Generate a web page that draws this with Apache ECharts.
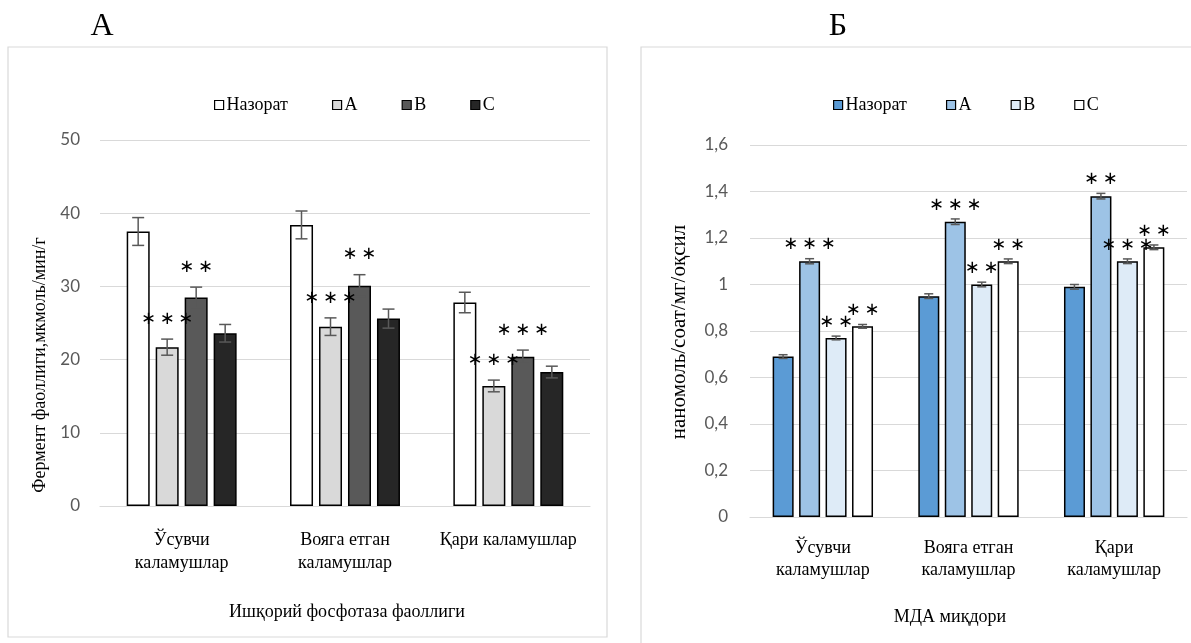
<!DOCTYPE html>
<html>
<head>
<meta charset="utf-8">
<script src="https://cdn.jsdelivr.net/npm/echarts@6/dist/echarts.min.js"></script>
<style>
html, body { margin: 0; padding: 0; background: #fff; }
#chart { width: 1191px; height: 643px; }
</style>
</head>
<body>
<div id="chart"></div>
<script>
// категориялар
var groupsA = ['Ўсувчи\nкаламушлар', 'Вояга етган\nкаламушлар', 'Қари каламушлар'];
var groupsB = ['Ўсувчи\nкаламушлар', 'Вояга етган\nкаламушлар', 'Қари\nкаламушлар'];
var seriesNames = ['Назорат', 'A', 'B', 'C'];

// А: ишқорий фосфотаза фаоллиги
var phosControl = [37.5, 38.4, 27.8];
var phosA = [21.7, 24.5, 16.4];
var phosB = [28.5, 30.1, 20.4];
var phosC = [23.6, 25.6, 18.3];
var phosErrControl = [1.9, 1.9, 1.4];
var phosErrA = [1.1, 1.2, 0.8];
var phosErrB = [1.4, 1.5, 0.9];
var phosErrC = [1.2, 1.3, 0.8];
var phosStarsControl = ['', '', ''];
var phosStarsA = ['***', '***', '***'];
var phosStarsB = ['**', '**', '***'];
var phosStarsC = ['', '', ''];

// Б: МДА миқдори
var mdaControl = [0.69, 0.95, 0.99];
var mdaA = [1.10, 1.27, 1.38];
var mdaB = [0.77, 1.00, 1.10];
var mdaC = [0.82, 1.10, 1.16];
var mdaErrControl = [0.008, 0.01, 0.01];
var mdaErrA = [0.011, 0.012, 0.012];
var mdaErrB = [0.008, 0.01, 0.01];
var mdaErrC = [0.008, 0.01, 0.01];
var mdaStarsControl = ['', '', ''];
var mdaStarsA = ['***', '***', '**'];
var mdaStarsB = ['**', '**', '***'];
var mdaStarsC = ['**', '**', '**'];

var colorsA = ['#ffffff', '#d9d9d9', '#595959', '#262626'];
var colorsB = ['#5b9bd5', '#9dc3e6', '#deebf7', '#ffffff'];

var serif = 'Liberation Serif';
var sans = 'Lato';

var myChart = echarts.init(document.getElementById('chart'));

function errorBars(si, step, cap, starGap, stars) {
    return function (params, api) {
        var ci = api.value(0);
        var v = api.value(1), e = api.value(2);
        var x = api.coord([ci, 0])[0] + (si - 1.5) * step;
        var top = api.coord([ci, v + e])[1];
        var bot = api.coord([ci, v - e])[1];
        var st = { stroke: '#595959', lineWidth: 1.5 };
        var children = [
            { type: 'line', shape: { x1: x, y1: top, x2: x, y2: bot }, style: st },
            { type: 'line', shape: { x1: x - cap, y1: top, x2: x + cap, y2: top }, style: st },
            { type: 'line', shape: { x1: x - cap, y1: bot, x2: x + cap, y2: bot }, style: st }
        ];
        var s = stars[params.dataIndex];
        if (s) {
            children.push({
                type: 'text',
                style: {
                    text: s.split('').map(function () { return '∗'; }).join('\u2009'),
                    x: x, y: top - starGap,
                    align: 'center', verticalAlign: 'middle',
                    fill: '#000', font: '18px "DejaVu Sans"'
                }
            });
        }
        return { type: 'group', children: children };
    };
}

function buildSeries(gi, suffix, values, errs, stars, colors, barWidth, step, cap, starGap) {
    var out = [];
    values.forEach(function (vals, si) {
        out.push({
            name: seriesNames[si] + suffix,
            type: 'bar',
            xAxisIndex: gi, yAxisIndex: gi,
            barWidth: barWidth,
            barGap: '26%',
            itemStyle: { color: colors[si], borderColor: '#000', borderWidth: 1.5 },
            data: vals,
            z: 2
        });
    });
    values.forEach(function (vals, si) {
        out.push({
            type: 'custom',
            xAxisIndex: gi, yAxisIndex: gi,
            renderItem: errorBars(si, step, cap, starGap, stars[si]),
            data: vals.map(function (v, i) { return [i, v, errs[si][i]]; }),
            z: 5
        });
    });
    return out;
}

var series = [].concat(
    buildSeries(0, '', [phosControl, phosA, phosB, phosC],
        [phosErrControl, phosErrA, phosErrB, phosErrC],
        [phosStarsControl, phosStarsA, phosStarsB, phosStarsC],
        colorsA, 23, 29, 6, 20),
    buildSeries(1, ' ', [mdaControl, mdaA, mdaB, mdaC],
        [mdaErrControl, mdaErrA, mdaErrB, mdaErrC],
        [mdaStarsControl, mdaStarsA, mdaStarsB, mdaStarsC],
        colorsB, 21, 26.5, 4.5, 14)
);

var axisCommon = {
    axisLine: { show: false },
    axisTick: { show: false },
    splitLine: { lineStyle: { color: '#d9d9d9', width: 1.2 } }
};

var option = {
    animation: false,
    textStyle: { fontFamily: serif },
    grid: [
        { left: 100, right: 601, top: 140, bottom: 137 },
        { left: 750, right: 4, top: 145, bottom: 126 }
    ],
    legend: [
        {
            data: seriesNames.slice(),
            left: 209, top: 91,
            itemWidth: 9, itemHeight: 9, itemGap: 44,
            icon: 'rect',
            itemStyle: { borderColor: '#000', borderWidth: 1.2 },
            textStyle: { fontFamily: serif, fontSize: 18, color: '#000', padding: [0, 0, 0, -2] }
        },
        {
            data: seriesNames.map(function (n) { return n + ' '; }),
            left: 828, top: 91,
            itemWidth: 9, itemHeight: 9, itemGap: 39,
            icon: 'rect',
            itemStyle: { borderColor: '#000', borderWidth: 1.2 },
            formatter: function (n) { return n.trim(); },
            textStyle: { fontFamily: serif, fontSize: 18, color: '#000', padding: [0, 0, 0, -2] }
        }
    ],
    xAxis: [
        {
            type: 'category', gridIndex: 0, data: groupsA,
            axisLine: { lineStyle: { color: '#d9d9d9', width: 1.2 } },
            axisTick: { show: false },
            axisLabel: { fontFamily: serif, fontSize: 18, color: '#000', lineHeight: 23, margin: 23, interval: 0 }
        },
        {
            type: 'category', gridIndex: 1, data: groupsB,
            axisLine: { lineStyle: { color: '#d9d9d9', width: 1.2 } },
            axisTick: { show: false },
            axisLabel: { fontFamily: serif, fontSize: 18, color: '#000', lineHeight: 22, margin: 20, interval: 0 }
        }
    ],
    yAxis: [
        Object.assign({
            type: 'value', gridIndex: 0, min: 0, max: 50, interval: 10,
            axisLabel: { fontFamily: sans, fontSize: 17, color: '#595959', margin: 20 }
        }, axisCommon),
        Object.assign({
            type: 'value', gridIndex: 1, min: 0, max: 1.6, interval: 0.2,
            axisLabel: {
                fontFamily: sans, fontSize: 17, color: '#595959', margin: 22,
                formatter: function (v) { return String(parseFloat(v.toFixed(1))).replace('.', ','); }
            }
        }, axisCommon)
    ],
    graphic: [
        { type: 'rect', shape: { x: 8, y: 47, width: 599, height: 590 },
          style: { fill: 'none', stroke: '#d9d9d9', lineWidth: 1.2 }, z: -1 },
        { type: 'rect', shape: { x: 641, y: 47, width: 570, height: 620 },
          style: { fill: 'none', stroke: '#d9d9d9', lineWidth: 1.2 }, z: -1 },
        { type: 'text', x: 102, y: 27,
          style: { text: 'А', font: '32px "Liberation Serif"', fill: '#000', align: 'center', verticalAlign: 'middle' } },
        { type: 'text', x: 838, y: 27,
          style: { text: 'Б', font: '32px "Liberation Serif"', fill: '#000', align: 'center', verticalAlign: 'middle' } },
        { type: 'text', x: 40, y: 365, rotation: Math.PI / 2,
          style: { text: 'Фермент фаоллиги,мкмоль/мин/г', font: '18px "Liberation Serif"', fill: '#000', align: 'center', verticalAlign: 'middle' } },
        { type: 'text', x: 679, y: 332, rotation: Math.PI / 2,
          style: { text: 'наномоль/соат/мг/оқсил', font: '21px "Liberation Serif"', fill: '#000', align: 'center', verticalAlign: 'middle' } },
        { type: 'text', x: 347, y: 612,
          style: { text: 'Ишқорий фосфотаза фаоллиги', font: '18px "Liberation Serif"', fill: '#000', align: 'center', verticalAlign: 'middle' } },
        { type: 'text', x: 950, y: 617,
          style: { text: 'МДА миқдори', font: '18px "Liberation Serif"', fill: '#000', align: 'center', verticalAlign: 'middle' } }
    ],
    series: series
};

myChart.setOption(option);
</script>
</body>
</html>
